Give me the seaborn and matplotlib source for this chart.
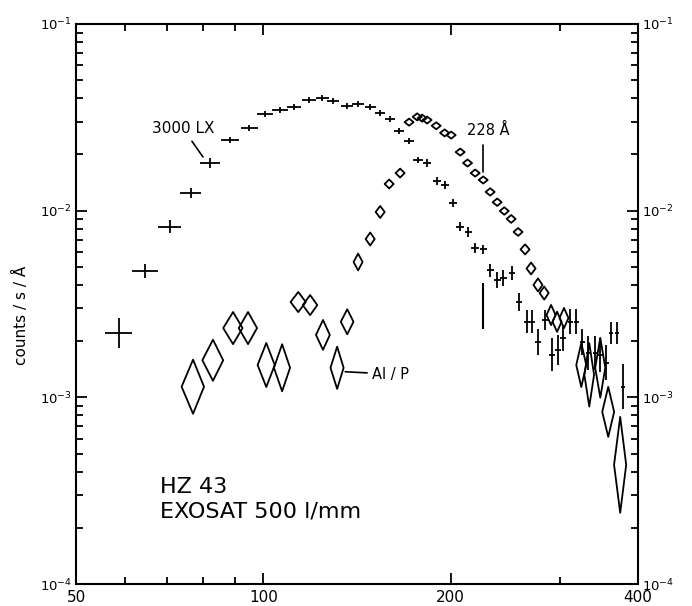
"""
HZ 43 EXOSAT transmission grating spectrum (500 l/mm)
"""

import matplotlib
matplotlib.use("Agg")
import matplotlib.pyplot as plt
import seaborn as sns
import numpy as np
from matplotlib.patches import Polygon
from matplotlib.collections import PatchCollection
from matplotlib.ticker import FixedLocator, FixedFormatter, LogLocator, LogFormatterMathtext, NullFormatter

# 3000 LX filter: wavelength (A), counts/s/A, half length of vertical bar (dex)
lx_wave = [58.6, 64.6, 70.8, 76.5, 82.1, 88.4, 95.0, 100.7, 106.4, 112.0,
           118.4, 124.3, 129.5, 136.4, 142.0, 148.5, 154.1, 159.9, 165.3, 171.5,
           177.3, 183.3, 190.3, 196.1, 201.9, 207.2, 213.6, 219.0, 225.6, 231.5,
           237.6, 243.0, 251.0, 257.7, 265.6, 270.2, 276.3, 283.8, 291.2, 297.6,
           303.1, 311.2, 318.3, 325.5, 332.8, 341.5, 347.9, 355.7, 362.3, 370.5, 378.7]
lx_flux = [2.21e-3, 4.75e-3, 8.2e-3, 1.25e-2, 1.80e-2, 2.39e-2, 2.77e-2, 3.30e-2, 3.46e-2, 3.59e-2,
           3.92e-2, 4.02e-2, 3.87e-2, 3.64e-2, 3.73e-2, 3.59e-2, 3.34e-2, 3.10e-2, 2.67e-2, 2.36e-2,
           1.87e-2, 1.80e-2, 1.44e-2, 1.37e-2, 1.10e-2, 8.2e-3, 7.7e-3, 6.3e-3, 6.2e-3, 4.8e-3,
           4.26e-3, 4.37e-3, 4.64e-3, 3.24e-3, 2.54e-3, 2.54e-3, 1.98e-3, 2.60e-3, 1.69e-3, 1.80e-3,
           2.08e-3, 2.54e-3, 2.54e-3, 1.98e-3, 1.73e-3, 1.73e-3, 1.69e-3, 1.53e-3, 2.21e-3, 2.21e-3, 1.14e-3]
lx_err = [0.08, 0.035, 0.035, 0.027, 0.027, 0.018, 0.018, 0.018, 0.018, 0.018,
          0.018, 0.018, 0.018, 0.018, 0.018, 0.018, 0.018, 0.018, 0.018, 0.018,
          0.018, 0.02, 0.02, 0.02, 0.02, 0.025, 0.025, 0.025, 0.025, 0.035,
          0.043, 0.043, 0.038, 0.05, 0.062, 0.062, 0.072, 0.054, 0.088, 0.08,
          0.07, 0.067, 0.067, 0.07, 0.09, 0.09, 0.09, 0.094, 0.059, 0.059, 0.12]
LX_BIN_HALF = 3.0

# one point with only a vertical bar
lone_wave = [225.6]
lone_flux = [3.09e-3]
lone_err = [0.125]

# 228 A filter
a228_wave = [142.0, 148.5, 154.1, 159.3, 165.9, 171.5, 176.7, 180.0, 183.3, 189.6,
             195.6, 200.4, 207.2, 212.9, 219.0, 225.6, 231.5, 237.6, 243.9, 250.2,
             256.7, 263.4, 269.3, 276.3, 282.7, 290.0, 296.5, 304.2]
a228_flux = [5.31e-3, 7.05e-3, 9.84e-3, 1.39e-2, 1.59e-2, 2.98e-2, 3.18e-2, 3.13e-2, 3.06e-2, 2.85e-2,
             2.61e-2, 2.54e-2, 2.06e-2, 1.80e-2, 1.59e-2, 1.46e-2, 1.26e-2, 1.11e-2, 9.96e-3, 9.03e-3,
             7.69e-3, 6.2e-3, 4.9e-3, 4.0e-3, 3.62e-3, 2.76e-3, 2.54e-3, 2.66e-3]
a228_err = [0.045, 0.035, 0.032, 0.024, 0.024, 0.019, 0.019, 0.019, 0.019, 0.019,
            0.019, 0.019, 0.019, 0.019, 0.019, 0.019, 0.02, 0.02, 0.02, 0.021,
            0.021, 0.027, 0.032, 0.035, 0.035, 0.054, 0.054, 0.054]

# Al/P filter: half bin width (A) and half height (dex)
alp_wave = [77.1, 83.0, 89.4, 94.5, 101.1, 107.2, 113.8, 118.9, 124.7, 131.4, 136.4,
            324.3, 334.0, 347.9, 358.3, 374.5]
alp_flux = [1.14e-3, 1.58e-3, 2.35e-3, 2.35e-3, 1.49e-3, 1.44e-3, 3.24e-3, 3.12e-3, 2.16e-3, 1.44e-3, 2.54e-3,
            1.49e-3, 1.32e-3, 1.44e-3, 8.36e-4, 4.35e-4]
alp_dw = [3.2, 3.2, 3.2, 3.2, 3.2, 3.2, 3.2, 3.2, 3.2, 3.2, 3.2,
          6.0, 6.0, 6.5, 7.9, 8.4]
alp_err = [0.145, 0.11, 0.086, 0.086, 0.118, 0.126, 0.054, 0.054, 0.08, 0.113, 0.067,
           0.118, 0.17, 0.16, 0.134, 0.257]

x_major = [50, 100, 200, 400]
x_minor = [60, 70, 80, 90, 300]


def dex_bars(flux, err):
    flux = np.asarray(flux)
    err = np.asarray(err)
    return [flux - flux / 10**err, flux * 10**err - flux]


def diamonds(ax, wave, flux, half_w, half_h, lw=1.3):
    polys = []
    for x, y, dx, dy in zip(wave, flux, half_w, half_h):
        polys.append(Polygon([(x - dx, y), (x, y * 10**dy), (x + dx, y), (x, y / 10**dy)], closed=True))
    ax.add_collection(PatchCollection(polys, facecolor="none", edgecolor="black", linewidth=lw, zorder=3))


sns.set_theme(style="ticks")
plt.rcParams["font.family"] = ["DejaVu Sans"]
plt.rcParams["axes.linewidth"] = 1.5
plt.rcParams["text.color"] = "black"

fig = plt.figure(figsize=(6.92, 6.06), dpi=100)
ax = fig.add_axes([76 / 692, 22 / 606, 562 / 692, 560 / 606])
ax.set_xscale("log")
ax.set_yscale("log")
ax.set_xlim(50, 400)
ax.set_ylim(1e-4, 1e-1)

# 3000 LX crosses
ax.errorbar(lx_wave, lx_flux, xerr=LX_BIN_HALF, yerr=dex_bars(lx_flux, lx_err),
            fmt="none", ecolor="black", elinewidth=1.3, capsize=0, zorder=4)
ax.errorbar(lone_wave, lone_flux, yerr=dex_bars(lone_flux, lone_err),
            fmt="none", ecolor="black", elinewidth=1.5, capsize=0, zorder=4)

# 228 A small diamonds (constant width on the log axis)
a228_dw = [w * (10**0.0072 - 1) for w in a228_wave]
diamonds(ax, a228_wave, a228_flux, a228_dw, a228_err)

# Al/P large diamonds
diamonds(ax, alp_wave, alp_flux, alp_dw, alp_err)

# ticks
ax.xaxis.set_major_locator(FixedLocator(x_major))
ax.xaxis.set_major_formatter(FixedFormatter([str(v) for v in x_major]))
ax.xaxis.set_minor_locator(FixedLocator(x_minor))
ax.xaxis.set_minor_formatter(NullFormatter())
ax.yaxis.set_major_locator(LogLocator(base=10, numticks=10))
ax.yaxis.set_major_formatter(LogFormatterMathtext())
ax.yaxis.set_minor_locator(LogLocator(base=10, subs=np.arange(2, 10), numticks=20))
ax.yaxis.set_minor_formatter(NullFormatter())

ax.tick_params(which="both", direction="in", top=True, right=True, labelright=True,
               width=1.3, color="black", labelcolor="black")
ax.tick_params(which="major", length=8)
ax.tick_params(which="minor", length=5)
ax.tick_params(axis="x", labelsize=11, pad=4)
ax.tick_params(axis="y", labelsize=9.5, pad=3)
for s in ax.spines.values():
    s.set_color("black")

# labels
ax.annotate("3000 LX", xy=(0.226, 0.7625), xycoords="axes fraction",
            xytext=(0.190, 0.814), textcoords="axes fraction",
            ha="center", va="center", fontsize=11, color="black",
            arrowprops=dict(arrowstyle="-", color="black", lw=1.2, shrinkA=2, shrinkB=0))
ax.text(0.733, 0.809, "228 Å", transform=ax.transAxes, ha="center", va="center", fontsize=10.5)
ax.plot([0.724, 0.724], [0.784, 0.7357], transform=ax.transAxes, color="black", lw=1.2)
ax.text(0.527, 0.375, "Al / P", transform=ax.transAxes, ha="left", va="center", fontsize=10.5)
ax.plot([0.479, 0.518], [0.379, 0.377], transform=ax.transAxes, color="black", lw=1.2)
ax.text(0.149, 0.173, "HZ 43", transform=ax.transAxes, ha="left", va="center", fontsize=16)
ax.text(0.149, 0.130, "EXOSAT 500 l/mm", transform=ax.transAxes, ha="left", va="center", fontsize=16)

fig.text(0.030, 0.480, "counts / s / Å", rotation=90, ha="center", va="center", fontsize=11)

fig.savefig("out.png", dpi=100, facecolor="white")
